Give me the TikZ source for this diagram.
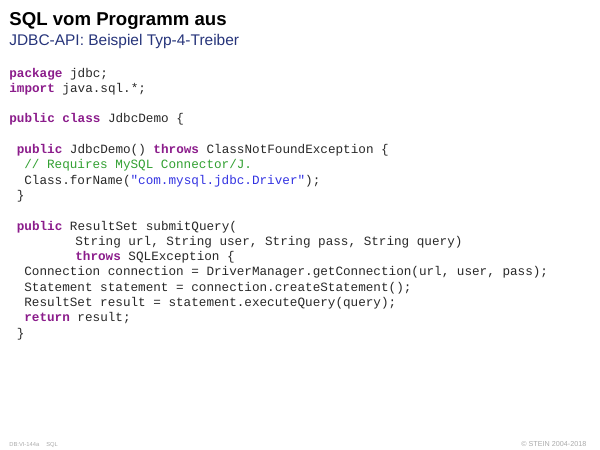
\documentclass[tikz,border=0pt]{standalone}
\usepackage{fontspec}
\setmainfont{Liberation Sans}
\setsansfont{Liberation Sans}
\setmonofont{Liberation Mono}
\usepackage{tikz}

\definecolor{kwpurple}{RGB}{139,28,139}
\definecolor{cmtgreen}{RGB}{50,160,50}
\definecolor{strblue}{RGB}{50,50,225}
\definecolor{codegray}{RGB}{40,40,40}
\definecolor{subblue}{RGB}{38,52,122}
\definecolor{footgray}{RGB}{170,170,170}

\newcommand{\kw}[1]{\textbf{\color{kwpurple}#1}}
\newcommand{\cmt}[1]{{\color{cmtgreen}#1}}
\newcommand{\str}[1]{{\color{strblue}#1}}

\tikzset{
    codeline/.style = {anchor=base west, inner sep=0pt, text=codegray,
        font=\ttfamily\fontsize{7.2}{8.5}\selectfont},
    title/.style = {anchor=base west, inner sep=0pt,
        font=\bfseries\fontsize{10.6}{12}\selectfont},
    subtitle/.style = {anchor=base west, inner sep=0pt, text=subblue,
        font=\fontsize{8.8}{10}\selectfont},
    footer/.style = {inner sep=0pt, text=footgray, anchor=base west}
}

\begin{document}
\begin{tikzpicture}[x=0.02cm, y=-0.02cm]
    \useasboundingbox (0, 0) rectangle (600, 450);

    \node[title] (head) at (9, 25) {SQL vom Programm aus};
    \node[subtitle] (subhead) at (9, 45) {JDBC-API: Beispiel Typ-4-Treiber};

    % code lines, 15.3 px apart
    \node[codeline] (pkg) at (9, 77) {\kw{package} jdbc;};
    \node[codeline] (imp) at (9, 92.3) {\kw{import} java.sql.*;};
    \node[codeline] (cls) at (9, 122.9) {\kw{public} \kw{class} JdbcDemo \{};

    \node[codeline] (ctor) at (16.5, 153.5)
        {\kw{public} JdbcDemo() \kw{throws} ClassNotFoundException \{};
    \node[codeline] (note) at (24, 168.8) {\cmt{// Requires MySQL Connector/J.}};
    \node[codeline] (load) at (24, 184.1)
        {Class.forName(\str{"com.mysql.jdbc.Driver"});};
    \node[codeline] (ctorend) at (16.5, 199.4) {\}};

    \node[codeline] (meth) at (16.5, 230) {\kw{public} ResultSet submitQuery(};
    \node[codeline] (args) at (75, 245.3)
        {String url, String user, String pass, String query)};
    \node[codeline] (thr) at (75, 260.6) {\kw{throws} SQLException \{};
    \node[codeline] (conn) at (24, 275.9)
        {Connection connection = DriverManager.getConnection(url, user, pass);};
    \node[codeline] (stmt) at (24, 291.2)
        {Statement statement = connection.createStatement();};
    \node[codeline] (res) at (24, 306.5)
        {ResultSet result = statement.executeQuery(query);};
    \node[codeline] (ret) at (24, 321.8) {\kw{return} result;};
    \node[codeline] (methend) at (16.5, 337.1) {\}};

    \node[footer, font=\fontsize{3.3}{4}\selectfont] (footid) at (9, 446) {DB:VI-144a};
    \node[footer, font=\fontsize{3.3}{4}\selectfont] (footsec) at (46, 446) {SQL};
    \node[footer, font=\fontsize{4.1}{5}\selectfont] (copy) at (521, 446)
        {\textcopyright\ STEIN 2004-2018};
\end{tikzpicture}
\end{document}
